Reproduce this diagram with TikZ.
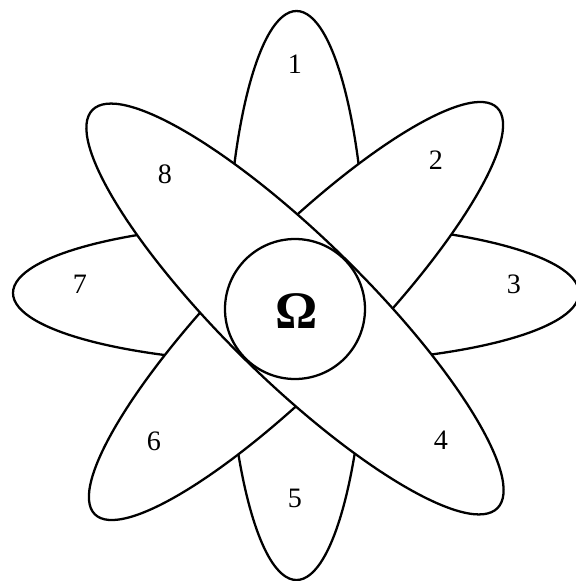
\documentclass[tikz,border=0pt]{standalone}
\usepackage{fontspec}
\setmainfont{Liberation Serif}
\begin{document}
\begin{tikzpicture}[line width=1.3pt,
  petal/.style={draw=black, fill=white},
  num/.style={font=\fontsize{16}{16}\selectfont}]
  \useasboundingbox (-5.92,-5.62) rectangle (5.60,6.0);
  \coordinate (C) at (-0.02,-0.18);

  % petals, back to front
  \draw[petal] (0.01,0.09) ellipse (1.4 and 5.69);
  \draw[petal] (0,0.14) ellipse (5.66 and 1.4);
  \draw[petal, rotate around={45.3:(0,-0.22)}] (0,-0.22) ellipse (5.72 and 1.38);
  \draw[petal, rotate around={-44.5:(C)}] (C) ellipse (5.68 and 1.42);
  \draw[petal] (C) circle (1.4);

  \node (omega) at (0.02,-0.22) {\fontsize{30}{30}\selectfont\bfseries Ω};

  \node[num] (n1) at (-0.02, 4.72) {1};
  \node[num] (n2) at (2.80, 2.80) {2};
  \node[num] (n3) at (4.36, 0.32) {3};
  \node[num] (n4) at (2.90, -2.80) {4};
  \node[num] (n5) at (-0.02, -3.96) {5};
  \node[num] (n6) at (-2.84, -2.82) {6};
  \node[num] (n7) at (-4.32, 0.32) {7};
  \node[num] (n8) at (-2.62, 2.52) {8};
\end{tikzpicture}
\end{document}
